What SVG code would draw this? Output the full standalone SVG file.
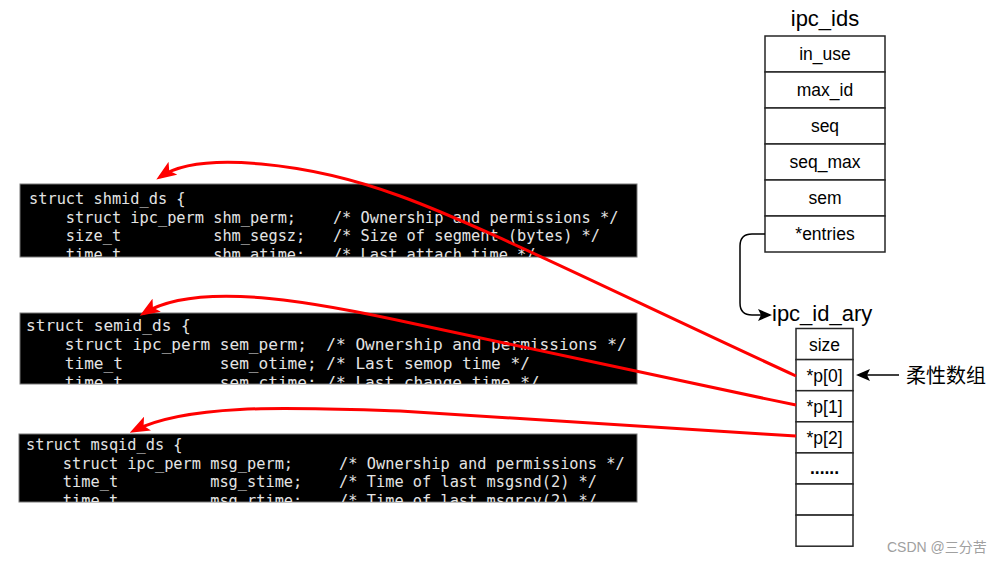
<svg xmlns="http://www.w3.org/2000/svg" width="1001" height="561" viewBox="0 0 1001 561">
<style>
.code{font-family:"DejaVu Sans Mono","Liberation Mono",monospace;fill:#e4e4e4;white-space:pre}
.codebox{fill:#000;stroke:#777;stroke-width:1}
.cell{fill:#fff;stroke:#262626;stroke-width:1.5}
.lbl{font-family:"Liberation Sans",Arial,sans-serif;font-size:17.5px;fill:#000;text-anchor:middle}
.title{font-family:"Liberation Sans",Arial,sans-serif;font-size:22px;fill:#000}
.red{fill:none;stroke:#ff0000;stroke-width:3}
.blk{fill:none;stroke:#000;stroke-width:1.5}
</style>
<defs>
<marker id="redArrow" markerUnits="userSpaceOnUse" markerWidth="20" markerHeight="16" viewBox="0 0 18 14" refX="14" refY="7" orient="auto">
<path d="M0,0 L18,7 L0,14 L4,7 Z" fill="#ff0000"/>
</marker>
<marker id="blkArrow" markerUnits="userSpaceOnUse" markerWidth="14" markerHeight="12" viewBox="0 0 14 12" refX="12" refY="6" orient="auto">
<path d="M0,0 L14,6 L0,12 L3,6 Z" fill="#000"/>
</marker>
<clipPath id="c1"><rect x="20" y="184" width="617" height="73"/></clipPath>
<clipPath id="c2"><rect x="20" y="313" width="617" height="71"/></clipPath>
<clipPath id="c3"><rect x="19" y="434" width="618" height="68"/></clipPath>
</defs>

<g id="shmid_ds">
<rect class="codebox" x="20" y="184" width="617" height="73"/>
<g clip-path="url(#c1)" font-size="15.3px">
<text class="code" xml:space="preserve" x="29" y="204">struct shmid_ds {</text>
<text class="code" xml:space="preserve" x="29" y="222.5">    struct ipc_perm shm_perm;    /* Ownership and permissions */</text>
<text class="code" xml:space="preserve" x="29" y="241">    size_t          shm_segsz;   /* Size of segment (bytes) */</text>
<text class="code" xml:space="preserve" x="29" y="259.5">    time_t          shm_atime;   /* Last attach time */</text>
</g>
</g>

<g id="semid_ds">
<rect class="codebox" x="20" y="313" width="617" height="71"/>
<g clip-path="url(#c2)" font-size="16.1px">
<text class="code" xml:space="preserve" x="26" y="331">struct semid_ds {</text>
<text class="code" xml:space="preserve" x="26" y="350">    struct ipc_perm sem_perm;  /* Ownership and permissions */</text>
<text class="code" xml:space="preserve" x="26" y="369">    time_t          sem_otime; /* Last semop time */</text>
<text class="code" xml:space="preserve" x="26" y="388">    time_t          sem_ctime; /* Last change time */</text>
</g>
</g>

<g id="msqid_ds">
<rect class="codebox" x="19" y="434" width="618" height="68"/>
<g clip-path="url(#c3)" font-size="15.3px">
<text class="code" xml:space="preserve" x="26" y="450">struct msqid_ds {</text>
<text class="code" xml:space="preserve" x="26" y="468.5">    struct ipc_perm msg_perm;     /* Ownership and permissions */</text>
<text class="code" xml:space="preserve" x="26" y="487">    time_t          msg_stime;    /* Time of last msgsnd(2) */</text>
<text class="code" xml:space="preserve" x="26" y="505.5">    time_t          msg_rtime;    /* Time of last msgrcv(2) */</text>
</g>
</g>

<g id="ipc_ids">
<text class="title" x="825" y="26" text-anchor="middle">ipc_ids</text>
<rect class="cell" x="765" y="36" width="120" height="36"/>
<rect class="cell" x="765" y="72" width="120" height="36"/>
<rect class="cell" x="765" y="108" width="120" height="36"/>
<rect class="cell" x="765" y="144" width="120" height="36"/>
<rect class="cell" x="765" y="180" width="120" height="36"/>
<rect class="cell" x="765" y="216" width="120" height="36"/>
<text class="lbl" x="825" y="60">in_use</text>
<text class="lbl" x="825" y="96">max_id</text>
<text class="lbl" x="825" y="132">seq</text>
<text class="lbl" x="825" y="168">seq_max</text>
<text class="lbl" x="825" y="204">sem</text>
<text class="lbl" x="825" y="240">*entries</text>
</g>

<g id="ipc_id_ary">
<text class="title" x="772" y="321">ipc_id_ary</text>
<rect class="cell" x="796" y="328.5" width="57" height="31.1"/>
<rect class="cell" x="796" y="359.6" width="57" height="31.1"/>
<rect class="cell" x="796" y="390.7" width="57" height="31.1"/>
<rect class="cell" x="796" y="421.8" width="57" height="31.1"/>
<rect class="cell" x="796" y="452.9" width="57" height="31.1"/>
<rect class="cell" x="796" y="484" width="57" height="31.1"/>
<rect class="cell" x="796" y="515.1" width="57" height="31.1"/>
<text class="lbl" x="824.5" y="351">size</text>
<text class="lbl" x="824.5" y="382">*p[0]</text>
<text class="lbl" x="824.5" y="413">*p[1]</text>
<text class="lbl" x="824.5" y="444">*p[2]</text>
<text class="lbl" x="824.5" y="474" font-weight="bold">......</text>
</g>

<g id="flex_label">
<text x="906" y="383" font-family="'Noto Sans CJK SC',sans-serif" font-size="20px" fill="#000">柔性数组</text>
</g>

<g id="connectors">
<path class="blk" d="M765,234 H752 Q740,234 740,246 V303 Q740,315 752,315 H770" marker-end="url(#blkArrow)"/>
<path class="blk" d="M899,375 H858" marker-end="url(#blkArrow)"/>
<path class="red" d="M796,376 C620,295 480,225 400,196 C310,163 200,150 160,177" marker-end="url(#redArrow)"/>
<path class="red" d="M796,405 C650,375 500,342 420,325 C330,305 200,278 143.5,313.5" marker-end="url(#redArrow)"/>
<path class="red" d="M796,436 C650,427 500,417 400,411 C300,408 190,402 133.7,430.7" marker-end="url(#redArrow)"/>
</g>

<text x="887" y="552" font-family="'Liberation Sans','Noto Sans CJK SC',sans-serif" font-size="14px" fill="#a0a0a0">CSDN @三分苦</text>
</svg>
